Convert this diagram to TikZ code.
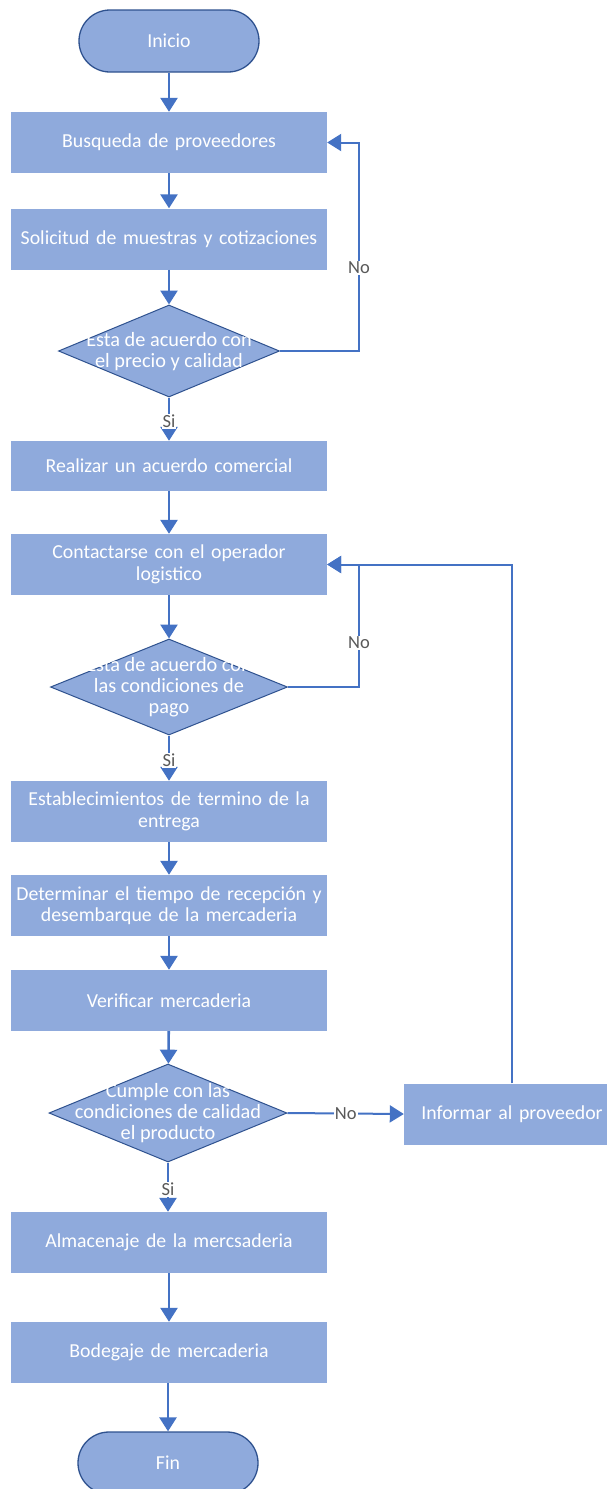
\documentclass[tikz,border=0pt]{standalone}
\usepackage{fontspec}
\setmainfont{Carlito}
\usetikzlibrary{shapes.geometric,arrows.meta}
\definecolor{boxfill}{HTML}{8FAADC}
\definecolor{linec}{HTML}{4472C4}
\definecolor{edgec}{HTML}{2F528F}
\definecolor{labc}{HTML}{595959}
\tikzset{
  procbox/.style={rectangle, fill=boxfill, draw=none, minimum width=314pt, minimum height=61pt, inner sep=2pt, text=white, align=center, text width=312pt, font=\fontsize{19.8}{21.5}\selectfont},
  termbox/.style={rectangle, rounded corners=31pt, fill=boxfill, draw=edgec, line width=1.3pt, minimum width=180pt, minimum height=62pt, text=white, font=\fontsize{19.8}{21.5}\selectfont},
  decbox/.style={diamond, fill=boxfill, draw=edgec, line width=1pt, inner sep=0pt},
  dectext/.style={text=white, align=center, font=\fontsize{20.3}{21}\selectfont, inner sep=0pt},
  flow/.style={draw=linec, line width=2.6pt, -{Triangle[width=17pt,length=14pt]}},
  looparrow/.style={draw=linec, line width=2pt, -{Triangle[width=17pt,length=14pt]}},
  lab/.style={fill=white, text=labc, inner sep=1pt, font=\fontsize{18.5}{19}\selectfont},
}
\begin{document}
\begin{tikzpicture}[x=1pt,y=-1pt]
\useasboundingbox[fill=white] (0,0) rectangle (606,1489);
% nodes
\node[termbox] (inicio) at (169,41) {Inicio};
\node[procbox] (b1) at (169,142.5) {Busqueda de proveedores};
\node[procbox] (b2) at (169,239) {Solicitud de muestras y cotizaciones};
\node[decbox, minimum width=221pt, minimum height=92pt] (d1) at (169,351) {};
\node[dectext] (t1) at (169,352) {Esta de acuerdo con\\el precio y calidad};
\node[procbox, minimum height=50pt] (b3) at (169,466) {Realizar un acuerdo comercial};
\node[procbox] (b4) at (169,564.5) {Contactarse con el operador\\logistico};
\node[decbox, minimum width=237pt, minimum height=96pt] (d2) at (169,687) {};
\node[dectext] (t2) at (169,687.5) {Esta de acuerdo con\\las condiciones de\\pago};
\node[procbox] (b5) at (169,811.5) {Establecimientos de termino de la\\entrega};
\node[procbox] (b6) at (169,905.5) {Determinar el tiempo de recepción y\\desembarque de la mercaderia};
\node[procbox] (b7) at (169,1000.5) {Verificar mercaderia};
\node[decbox, minimum width=238pt, minimum height=98pt] (d3) at (168,1113) {};
\node[dectext] (t3) at (168,1113.5) {Cumple con las\\condiciones de calidad\\el producto};
\node[procbox, minimum width=214pt, text width=212pt] (inf) at (512,1114) {Informar al proveedor};
\node[procbox] (b8) at (169,1242.5) {Almacenaje de la mercsaderia};
\node[procbox] (b9) at (169,1352.5) {Bodegaje de mercaderia};
\node[termbox] (fin) at (168,1463) {Fin};
% main flow
\draw[flow] (inicio) -- (b1);
\draw[flow] (b1) -- (b2);
\draw[flow] (b2) -- (d1);
\draw[flow] (d1) -- node[lab, pos=0.55] {Si} (b3);
\draw[flow] (b3) -- (b4);
\draw[flow] (b4) -- (d2);
\draw[flow] (d2) -- node[lab, pos=0.55] {Si} (b5);
\draw[flow] (b5) -- (b6);
\draw[flow] (b6) -- (b7);
\draw[flow] (b7) -- (d3);
\draw[flow] (d3.south) -- node[lab, pos=0.55] {Si} (b8.north -| d3.south);
\draw[flow] (b8) -- (b9);
\draw[flow] (b9.south -| fin.north) -- (fin);
% loops
\coordinate (c1) at (359,351);
\coordinate (c2) at (359,142.5);
\draw[looparrow] (d1.east) -- (c1) -- node[lab, pos=0.40] {No} (c2) -- (b1.east);
\coordinate (c3) at (359,687);
\coordinate (c4) at (359,564.5);
\draw[looparrow] (d2.east) -- (c3) -- node[lab, pos=0.36] {No} (c4) -- (b4.east);
\coordinate (c5) at (512,564.5);
\draw[looparrow] (inf.north) -- (c5) -- (b4.east);
\draw[looparrow] (d3.east) -- node[lab, pos=0.5] {No} (inf.west);
\end{tikzpicture}
\end{document}
